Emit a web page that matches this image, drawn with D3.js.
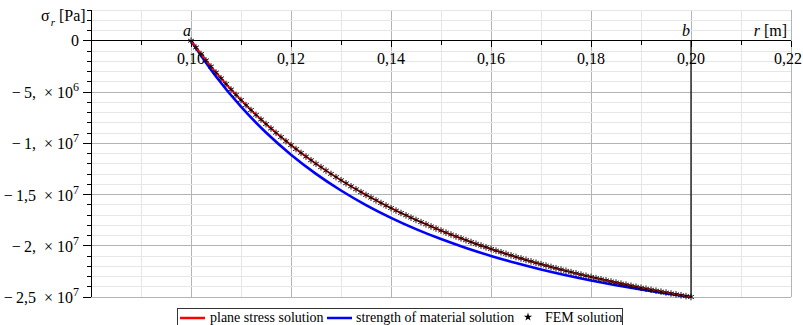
<!DOCTYPE html>
<html><head><meta charset="utf-8">
<script src="https://cdn.jsdelivr.net/npm/d3@7"></script>
<style>body{margin:0;background:#fff}svg{display:block}</style>
</head><body>
<svg id="c" width="803" height="325" font-family="'Liberation Serif', 'DejaVu Serif', serif"></svg>
<script>
// radius positions for the analytic curves (m)
const rLine = [0.100,0.105,0.110,0.115,0.120,0.125,0.130,0.135,0.140,0.145,0.150,0.155,0.160,0.165,0.170,0.175,0.180,0.185,0.190,0.195,0.200];
// plane stress solution, sigma_r in MPa
const planeStress = [0,-3.099,-5.785,-8.129,-10.185,-12.000,-13.609,-15.043,-16.327,-17.479,-18.519,-19.459,-20.313,-21.090,-21.799,-22.449,-23.045,-23.594,-24.100,-24.567,-25.000];
// strength of material solution, sigma_r in MPa
const strengthMat = [0,-3.487,-6.438,-8.954,-11.117,-12.985,-14.608,-16.028,-17.274,-18.374,-19.348,-20.216,-20.990,-21.685,-22.309,-22.872,-23.382,-23.845,-24.265,-24.649,-25.000];
// FEM solution: r from 0.100 to 0.200, step 0.001, sigma_r in MPa
const femStart = 0.100, femStep = 0.001;
const femValues = [0,-0.657,-1.294,-1.913,-2.515,-3.099,-3.667,-4.219,-4.755,-5.277,
-5.785,-6.279,-6.760,-7.228,-7.684,-8.129,-8.561,-8.983,-9.394,-9.795,
-10.185,-10.566,-10.938,-11.301,-11.655,-12.000,-12.337,-12.667,-12.988,-13.302,
-13.609,-13.909,-14.203,-14.489,-14.769,-15.043,-15.311,-15.574,-15.830,-16.081,
-16.327,-16.567,-16.802,-17.033,-17.258,-17.479,-17.696,-17.908,-18.115,-18.319,
-18.519,-18.714,-18.906,-19.094,-19.278,-19.459,-19.636,-19.810,-19.981,-20.148,
-20.313,-20.474,-20.632,-20.787,-20.940,-21.090,-21.237,-21.381,-21.523,-21.662,
-21.799,-21.934,-22.066,-22.196,-22.324,-22.449,-22.572,-22.694,-22.813,-22.930,
-23.045,-23.159,-23.270,-23.380,-23.488,-23.594,-23.698,-23.801,-23.902,-24.002,
-24.100,-24.196,-24.291,-24.385,-24.477,-24.567,-24.656,-24.744,-24.831,-24.916,-25.000];
// ticks
const xTicks = [0.10,0.12,0.14,0.16,0.18,0.20,0.22];
const xTickLabels = ["0,10","0,12","0,14","0,16","0,18","0,20","0,22"];
const yTicks = [0,-5e6,-1e7,-1.5e7,-2e7,-2.5e7];
const yTickMant = ["0","\u2212\u20095,\u2002\u00d7\u200510","\u2212\u20091,\u2002\u00d7\u200510","\u2212\u20091,5\u2002\u00d7\u200510","\u2212\u20092,\u2002\u00d7\u200510","\u2212\u20092,5\u2002\u00d7\u200510"];
const yTickExp = ["","6","7","7","7","7"];
const rA = 0.10, rB = 0.20;
const legendItems = ["plane stress solution","strength of material solution","FEM solution"];

const FONT = "'Liberation Serif', 'DejaVu Serif', serif";
const svg = d3.select("#c");
const x = d3.scaleLinear().domain([0.08,0.22]).range([91,791]);
const y = d3.scaleLinear().domain([-2.5e7,3e6]).range([297,10]);

// grid
const g = svg.append("g");
d3.range(0,15).map(i=>0.08+i*0.01).forEach((v,i)=>{
  g.append("line").attr("x1",x(v)).attr("x2",x(v)).attr("y1",y(3e6)).attr("y2",y(-2.5e7))
   .attr("stroke", i%2===0 ? "#b4b4b4" : "#e6e6e6").attr("stroke-width",1).attr("shape-rendering","crispEdges");
});
d3.range(-25,4).forEach(k=>{
  if(k===0) return;
  g.append("line").attr("x1",x(0.08)).attr("x2",x(0.22)).attr("y1",y(k*1e6)).attr("y2",y(k*1e6))
   .attr("stroke", k%5===0 ? "#b4b4b4" : "#e6e6e6").attr("stroke-width",1).attr("shape-rendering","crispEdges");
});

// axes
const ax = svg.append("g").attr("stroke","#000").attr("shape-rendering","crispEdges");
ax.append("line").attr("x1",x(0.08)).attr("x2",x(0.22)).attr("y1",y(0)).attr("y2",y(0));
ax.append("line").attr("x1",x(0.08)).attr("x2",x(0.08)).attr("y1",y(3e6)).attr("y2",y(-2.5e7));
d3.range(0,15).map(i=>0.08+i*0.01).forEach((v,i)=>{
  if(i===0) return;
  ax.append("line").attr("x1",x(v)).attr("x2",x(v)).attr("y1",y(0)).attr("y2",y(0)+(i%2===0?6:4));
});
d3.range(-25,4).forEach(k=>{
  ax.append("line").attr("x1",x(0.08)-(k%5===0?8:4)).attr("x2",x(0.08)).attr("y1",y(k*1e6)).attr("y2",y(k*1e6));
});

// tick labels
xTicks.forEach((v,i)=>{
  svg.append("text").attr("x",Math.min(x(v),788)).attr("y",y(0)+23).attr("text-anchor","middle")
    .attr("font-family",FONT).attr("font-size",16).text(xTickLabels[i]);
});
yTicks.forEach((v,i)=>{
  const t = svg.append("text").attr("x",79).attr("y",y(v)+(i===0?5:6)).attr("text-anchor","end")
    .attr("font-family",FONT).attr("font-size",16);
  t.append("tspan").text(yTickMant[i]);
  if(yTickExp[i]) t.append("tspan").attr("dy",-7).attr("font-size",12).text(yTickExp[i]);
});

// axis title
const yt = svg.append("text").attr("x",41).attr("y",21).attr("font-size",16).attr("font-family",FONT);
yt.append("tspan").text("\u03c3");
yt.append("tspan").attr("font-style","italic").attr("font-size",11).attr("dy",5).attr("dx",1).text("r");
yt.append("tspan").attr("dy",-5).attr("dx",4).text("[Pa]");
const xt = svg.append("text").attr("x",787).attr("y",36).attr("font-size",16).attr("text-anchor","end").attr("font-family",FONT);
xt.append("tspan").attr("font-style","italic").text("r");
xt.append("tspan").text(" [m]");
svg.append("text").attr("x",x(rA)-4).attr("y",36).attr("font-size",16).attr("font-style","italic").attr("text-anchor","middle").attr("font-family",FONT).text("a");
svg.append("text").attr("x",x(rB)-5).attr("y",36).attr("font-size",16).attr("font-style","italic").attr("text-anchor","middle").attr("font-family",FONT).text("b");

// curves
const line = d3.line().x(d=>x(d[0])).y(d=>y(d[1]*1e6)).curve(d3.curveMonotoneX);
svg.append("path").datum(rLine.map((r,i)=>[r,strengthMat[i]])).attr("d",line)
  .attr("fill","none").attr("stroke","#0000ff").attr("stroke-width",2.6);
svg.append("path").datum(rLine.map((r,i)=>[r,planeStress[i]])).attr("d",line)
  .attr("fill","none").attr("stroke","#ff0000").attr("stroke-width",2);

// FEM stars
const ast = "M0,-3.3L0,3.3M-2.9,-1.7L2.9,1.7M-2.9,1.7L2.9,-1.7";
svg.append("g").selectAll("path").data(femValues).join("path")
  .attr("transform",(d,i)=>`translate(${x(femStart+i*femStep)},${y(d*1e6)})`)
  .attr("d",ast).attr("stroke","#000").attr("stroke-width",1).attr("fill","none").attr("opacity",0.9);

// r = b line
svg.append("line").attr("x1",x(rB)).attr("x2",x(rB)).attr("y1",y(0)).attr("y2",y(-2.5e7))
  .attr("stroke","#000").attr("stroke-width",1.2);

// legend
const lg = svg.append("g").attr("font-family",FONT);
lg.append("rect").attr("x",177.5).attr("y",308.5).attr("width",445).attr("height",30)
  .attr("fill","#fff").attr("stroke","#333");
lg.append("line").attr("x1",180).attr("x2",205).attr("y1",318).attr("y2",318).attr("stroke","#ff0000").attr("stroke-width",2.5);
lg.append("text").attr("x",210).attr("y",322).attr("font-size",14).text(legendItems[0]);
lg.append("line").attr("x1",327).attr("x2",352).attr("y1",318).attr("y2",318).attr("stroke","#0000ff").attr("stroke-width",2.5);
lg.append("text").attr("x",356).attr("y",322).attr("font-size",14).text(legendItems[1]);
lg.append("path").attr("transform","translate(528,317)").attr("d",d3.symbol(d3.symbolStar,22)()).attr("fill","#000");
lg.append("text").attr("x",545).attr("y",322).attr("font-size",14).text(legendItems[2]);
</script>
</body></html>
